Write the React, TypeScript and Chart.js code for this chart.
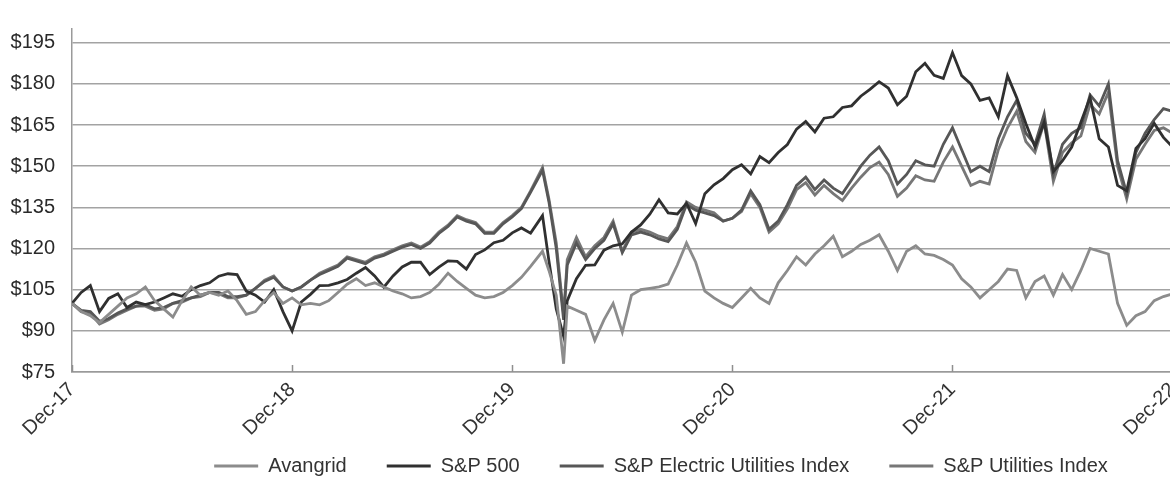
import { useEffect, useRef } from 'react';
import { Chart, registerables } from 'chart.js';

Chart.register(...registerables);

// Months since Dec-17 (x values of every point)
const MONTHS = [
  0, 0.5, 1, 1.5, 2, 2.5, 3, 3.5, 4, 4.5, 5, 5.5, 6, 6.5, 7, 7.5, 8, 8.5, 9, 9.5, 10, 10.5, 11, 11.5, 12,
  12.5, 13, 13.5, 14, 14.5, 15, 15.5, 16, 16.5, 17, 17.5, 18, 18.5, 19, 19.5, 20, 20.5, 21, 21.5, 22, 22.5, 23, 23.5, 24,
  24.5, 25,
  25.65, 26, 26.4, 26.8,
  27, 27.5, 28, 28.5, 29, 29.5, 30, 30.5, 31, 31.5, 32, 32.5, 33, 33.5, 34, 34.5, 35, 35.5, 36,
  36.5, 37, 37.5, 38, 38.5, 39, 39.5, 40, 40.5, 41, 41.5, 42, 42.5, 43, 43.5, 44, 44.5, 45, 45.5, 46, 46.5, 47, 47.5, 48,
  48.5, 49, 49.5, 50, 50.5, 51, 51.5, 52, 52.5, 53, 53.5, 54, 54.5, 55, 55.5, 56, 56.5, 57, 57.5, 58, 58.5, 59, 59.5, 60,
];

const AVANGRID = [
  100, 97, 95.5, 93, 96, 99, 102, 103.5, 106, 101, 98, 95, 101, 106, 103, 104, 103, 104.5, 101, 96, 97, 101, 104, 100, 102,
  99.5, 100, 99.5, 101, 104, 107, 109, 106.5, 107.5, 106, 104.5, 103.5, 102, 102.5, 104, 107, 111, 108, 105.5, 103, 102, 102.5, 104, 106.5,
  109.5, 113.5,
  119, 112, 103, 78,
  99, 97.5, 96, 86.5, 94, 100, 89.5, 103, 105, 105.5, 106, 107, 114, 122, 115, 104.5, 102, 100, 98.5,
  102, 105.5, 102, 100, 107.5, 112, 117, 114, 118, 121, 124.5, 117, 119, 121.5, 123, 125, 119, 112, 119, 121, 118, 117.5, 116, 114,
  109, 106, 102, 105, 108, 112.5, 112, 102, 108, 110, 103, 110.5, 105, 112, 120, 119, 118, 100, 92, 95.5, 97, 101, 102.5, 103.5,
];

const SP500 = [
  100, 104, 106.5, 97, 101.8, 103.5, 98.5, 100.5, 99.6, 100.5, 102, 103.5, 102.6, 105, 106.5, 107.5, 109.9, 110.8, 110.5, 104.5, 103, 100.5, 105, 97, 90,
  100.5, 103.3, 106.5, 106.6, 107.5, 108.7, 111, 113.1, 110, 105.9, 110, 113.3, 115, 115, 110.5, 113.2, 115.5, 115.3, 112.5, 117.8, 119.5, 122.1, 123, 125.7,
  127.5, 125.6,
  132, 115.5, 98, 88,
  101, 109, 113.9, 114, 119.4, 121, 121.7, 126, 128.6, 132.5, 137.8, 133, 132.6, 136.5, 129.1, 140, 143.2, 145.5, 148.7,
  150.5, 147.2, 153.5, 151.3, 155, 157.9, 163.5, 166.3, 162.5, 167.5, 168, 171.4, 172, 175.5, 178, 180.8, 178.5, 172.4, 175.5, 184.4, 187.5, 183.1, 182, 191.4,
  183, 180, 174, 174.9, 168, 183, 175, 165.6, 157, 166, 148, 152, 157, 166, 175, 160, 157, 143, 141, 156.5, 160, 165.6, 160.5, 157,
];

const ELECTRIC = [
  100, 97.5, 97, 93.5, 94.5, 96.5, 98, 99, 99.5, 98, 98.5, 100, 101, 102, 103, 104, 104, 102.5, 102.5, 103, 105.5, 108, 109.5, 106, 104.5,
  106, 108.5, 110.5, 112, 113.5, 116.5, 115.5, 114.5, 116.5, 117.5, 119, 120.5, 121.5, 120, 122, 125.5, 128, 131.5, 130, 129, 125.5, 125.5, 129, 131.5,
  134.5, 140.5,
  148.5, 137, 120, 94,
  114, 122, 116, 120, 123, 129, 118.5, 125, 126, 125, 123.5, 122.5, 127, 136, 134, 133, 132, 130, 131,
  134, 141, 136, 127, 130, 136, 143, 146, 141.5, 145, 142, 140, 145, 150, 154, 157, 152, 143.5, 147, 152, 150.5, 150, 158, 164,
  156, 148, 150, 148, 160, 168, 174, 162, 158, 169, 147, 158, 162, 164, 176, 172, 180, 152, 140, 155, 162, 167, 171, 170,
];

const UTILITIES = [
  100, 97, 96.5, 92.5, 94, 96, 97.5, 99, 99, 97.5, 98, 100, 100.5, 102, 102.5, 104, 103.5, 102, 102, 103, 105.5, 108.5, 110, 106, 104.5,
  106, 108.5, 111, 112.5, 114, 117, 116, 115, 117, 118, 119.5, 121, 122, 120.5, 122.5, 126, 128.5, 132, 130.5, 129.5, 126, 126, 129.5, 132,
  135, 141,
  149.5, 138, 122, 96,
  116, 124, 117, 121, 124, 130, 119, 126, 127, 126, 124.5, 123.5, 128, 137, 135, 134, 133, 130, 131,
  133.5, 140, 135, 126, 129, 134.5, 141.5, 144, 139.5, 143, 140, 137.5, 142, 146, 149.5, 151.5, 147, 139, 142, 146.5, 145, 144.5, 151.5, 157,
  150, 143, 144.5, 143.5, 156, 164, 170, 159, 155, 166, 144.5, 155, 158.5, 161, 172.5, 169, 177, 150, 138, 152.5, 158, 163, 164, 162,
];

const SERIES_NAMES = ['Avangrid', 'S&P 500', 'S&P Electric Utilities Index', 'S&P Utilities Index'];
const SERIES_COLORS = ['#8c8c8c', '#303030', '#575757', '#777777'];
const X_TICKS = [0, 12, 24, 36, 48, 60];
const X_LABELS = ['Dec-17', 'Dec-18', 'Dec-19', 'Dec-20', 'Dec-21', 'Dec-22'];
const Y_TICKS = [75, 90, 105, 120, 135, 150, 165, 180, 195];

const CANVAS_W = 1312;
const CANVAS_H = 489;
const FONT = "'Liberation Sans', Arial, sans-serif";

// small tick marks pointing up into the plot at each year
const upTicks = {
  id: 'upTicks',
  afterDraw(chart: any) {
    const xs = chart.scales.x;
    const ctx = chart.ctx;
    const bottom = chart.chartArea.bottom;
    ctx.save();
    ctx.strokeStyle = '#8f8f8f';
    ctx.lineWidth = 1.5;
    X_TICKS.forEach((v) => {
      const px = Math.round(xs.getPixelForValue(v)) + 0.5;
      ctx.beginPath();
      ctx.moveTo(px, bottom);
      ctx.lineTo(px, bottom - 7);
      ctx.stroke();
    });
    ctx.restore();
  },
};

// let the rotated x labels use the room under the axis without being clipped
const labelRoom = {
  id: 'labelRoom',
  afterLayout(chart: any) {
    const xs = chart.scales.x;
    if (xs) xs.bottom = chart.height;
  },
};

export default function App() {
  const ref = useRef<HTMLCanvasElement | null>(null);

  useEffect(() => {
    document.body.style.margin = '0';
    const canvas = ref.current;
    if (!canvas) return;
    const all = [AVANGRID, SP500, ELECTRIC, UTILITIES];
    const chart = new Chart(canvas, {
      type: 'line',
      data: {
        datasets: all.map((vals, i) => ({
          label: SERIES_NAMES[i],
          data: vals.map((y, j) => ({ x: MONTHS[j], y })),
          borderColor: SERIES_COLORS[i],
          backgroundColor: SERIES_COLORS[i],
          borderWidth: 2.8,
          pointRadius: 0,
          tension: 0,
        })),
      },
      options: {
        responsive: false,
        animation: false,
        devicePixelRatio: 1,
        layout: { padding: { left: 10, top: 14, right: 0, bottom: 3 } },
        plugins: {
          tooltip: { enabled: false },
          legend: {
            position: 'bottom',
            align: 'center',
            labels: {
              usePointStyle: true,
              pointStyle: 'line',
              pointStyleWidth: 44,
              padding: 40,
              color: '#333333',
              font: { family: FONT, size: 20 },
            },
          },
        },
        scales: {
          x: {
            type: 'linear',
            min: 0,
            max: 67.6,
            afterBuildTicks: (axis: any) => {
              axis.ticks = X_TICKS.map((v) => ({ value: v }));
            },
            afterFit: (axis: any) => {
              axis.height = 44;
              axis.paddingLeft = 0;
              axis.paddingRight = 0;
            },
            grid: { display: true, drawOnChartArea: false, drawTicks: false },
            border: { display: true, color: '#9a9a9a', width: 1.5 },
            ticks: {
              autoSkip: false,
              maxRotation: 45,
              minRotation: 45,
              padding: 6,
              color: '#333333',
              font: { family: FONT, size: 20 },
              callback: (value: any) => {
                const idx = X_TICKS.indexOf(Number(value));
                return idx >= 0 ? X_LABELS[idx] : '';
              },
            },
          },
          y: {
            type: 'linear',
            min: 75,
            max: 200,
            afterBuildTicks: (axis: any) => {
              axis.ticks = Y_TICKS.map((v) => ({ value: v }));
            },
            afterFit: (axis: any) => {
              axis.width = 62;
            },
            grid: { color: '#a3a3a3', lineWidth: 1.5, drawTicks: false },
            border: { display: true, color: '#9a9a9a', width: 1.5 },
            ticks: {
              padding: 17,
              color: '#2a2a2a',
              font: { family: FONT, size: 20 },
              callback: (value: any) => '$' + value,
            },
          },
        },
      },
      plugins: [upTicks, labelRoom],
    });
    return () => chart.destroy();
  }, []);

  return (
    <div style={{ width: 1170, height: 489, overflow: 'hidden', position: 'relative', background: '#fff' }}>
      <div style={{ width: CANVAS_W, height: CANVAS_H }}>
        <canvas ref={ref} width={CANVAS_W} height={CANVAS_H} style={{ width: CANVAS_W, height: CANVAS_H, display: 'block' }} />
      </div>
    </div>
  );
}
